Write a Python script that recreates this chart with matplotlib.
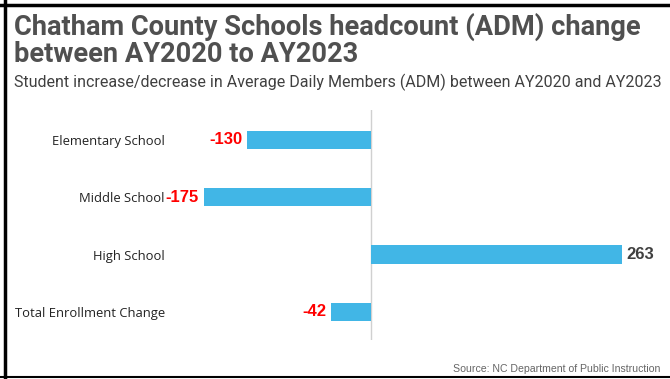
#Horizontal bar chart of headcount change per school level.
import matplotlib
matplotlib.use("Agg")
import matplotlib.pyplot as plt
from matplotlib.lines import Line2D

#Chart data.
categories = ["Elementary School", "Middle School", "High School", "Total Enrollment Change"]
changes = [-130, -175, 263, -42]

title_lines = ["Chatham County Schools headcount (ADM) change", "between AY2020 to AY2023"]
subtitle = "Student increase/decrease in Average Daily Members (ADM) between AY2020 and AY2023"
source = "Source: NC Department of Public Instruction"

bar_color = "#41b6e6"

fig = plt.figure(figsize=(6.7, 3.79), dpi=100)
ax = fig.add_axes([180/670, 1 - 340/379, 480/670, 230/379])

ypos = list(range(len(categories)))
ax.barh(ypos, changes, height=0.32, color=bar_color, zorder=2)

#Zero line.
ax.axvline(0, color="#d0d0d0", linewidth=1, zorder=1)

#Value labels.
for y, v in zip(ypos, changes):
    if v < 0:
        ax.text(v - 5, y, str(v), ha="right", va="center", color="#ff0000",
                fontsize=12, fontweight="bold", family="Liberation Sans")
    else:
        ax.text(v + 4, y, str(v), ha="left", va="center", color="#404040",
                fontsize=12, fontweight="bold", family="Liberation Sans")

ax.set_xlim(-200, 302.6)
ax.set_ylim(3.49, -0.52)
ax.set_yticks(ypos)
ax.set_yticklabels(categories, family="Open Sans", fontsize=9.4, color="#222222")
ax.tick_params(axis="y", length=0, pad=11)
ax.set_xticks([])
for s in ax.spines.values():
    s.set_visible(False)

#Titles (one text per line so each baseline can be placed).
for line, base in zip(title_lines, [35, 62]):
    fig.text(14/670, 1 - base/379, line, ha="left", va="baseline", family="Roboto",
             fontweight="bold", fontsize=19.6, color="#505050")
fig.text(14/670, 1 - 87/379, subtitle, ha="left", va="baseline", family="Roboto",
         fontsize=11.5, color="#404040")
fig.text(660/670, 1 - 369/379, source, ha="right", va="center",
         family="Liberation Sans", fontsize=7.6, color="#666666")

#Frame lines on left, top and bottom.
fig.add_artist(Line2D([5/670, 5/670], [0, 1], color="black", linewidth=2.5, transform=fig.transFigure))
fig.add_artist(Line2D([0, 1], [1 - 4.5/379, 1 - 4.5/379], color="black", linewidth=2.5, transform=fig.transFigure))
fig.add_artist(Line2D([0, 1], [1 - 377/379, 1 - 377/379], color="black", linewidth=1.5, transform=fig.transFigure))

fig.savefig("out.png", dpi=100)
